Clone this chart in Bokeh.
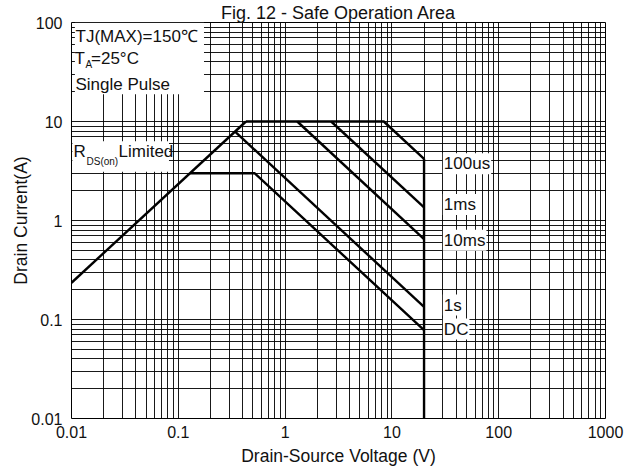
from bokeh.plotting import figure
from bokeh.models import (FixedTicker, CustomJSTickFormatter, Label, BoxAnnotation, Range1d)
from bokeh.embed import file_html
from bokeh.resources import INLINE

# ---------------- data ----------------
x_tick_values = [0.01, 0.1, 1, 10, 100, 1000]
y_tick_values = [0.01, 0.1, 1, 10, 100]
grid_mantissas = [1, 2, 3, 4, 5, 6, 7, 8, 9]

# RDS(on) limit line
rds_v = [0.01, 0.43]
rds_i = [0.235, 10]
# 100us
us100_v = [0.43, 8.4, 20]
us100_i = [10, 10, 4.2]
# 1ms
ms1_v = [2.7, 20]
ms1_i = [10, 1.36]
# 10ms
ms10_v = [1.3, 20]
ms10_i = [10, 0.65]
# 1s
s1_v = [0.34, 20]
s1_i = [7.9, 0.134]
# DC
dc_v = [0.129, 0.52, 20]
dc_i = [3, 3, 0.078]
# VDS max limit
vmax_v = [20, 20]
vmax_i = [4.2, 0.01]

curve_label_text = ["100us", "1ms", "10ms", "1s", "DC"]
curve_label_v = [30, 30, 30, 30, 30]
curve_label_i = [3.74, 1.45, 0.63, 0.14, 0.08]

cond_text = ["TJ(MAX)=150\u2103", "Single Pulse"]
cond_i = [72.6, 23.9]
ta_i = 43.6
rds_label_i = 4.94

FONT = "Liberation Sans"
TXT = "#111111"

# ---------------- figure ----------------
p = figure(width=625, height=469, x_axis_type="log", y_axis_type="log",
           x_range=Range1d(0.01, 1000), y_range=Range1d(0.01, 100),
           output_backend="svg", toolbar_location=None,
           min_border_left=71, min_border_right=20, min_border_top=21, min_border_bottom=51)
p.background_fill_color = "white"
p.border_fill_color = "white"
p.outline_line_color = "black"
p.outline_line_width = 1

p.title.text = "Fig. 12 - Safe Operation Area"
p.title.text_font = FONT
p.title.text_font_size = "18px"
p.title.text_font_style = "normal"
p.title.text_color = TXT
p.title.align = "center"
p.title.offset = -13
p.title.standoff = 0

xgrid_ticks = [m * d for d in x_tick_values[:-1] for m in grid_mantissas] + [x_tick_values[-1]]
ygrid_ticks = [m * d for d in y_tick_values[:-1] for m in grid_mantissas] + [y_tick_values[-1]]

for ax, ticks in ((p.xaxis[0], x_tick_values), (p.yaxis[0], y_tick_values)):
    ax.ticker = FixedTicker(ticks=ticks, minor_ticks=[])
    ax.formatter = CustomJSTickFormatter(code="return String(tick)")
    ax.major_tick_line_color = None
    ax.minor_tick_line_color = None
    ax.axis_line_color = None
    ax.major_tick_out = 0
    ax.major_tick_in = 0
    ax.major_label_text_font = FONT
    ax.major_label_text_font_size = "16px"
    ax.major_label_text_color = TXT
    ax.axis_label_text_font = FONT
    ax.axis_label_text_font_size = "17.5px"
    ax.axis_label_text_font_style = "normal"
    ax.axis_label_text_color = TXT

p.xaxis.axis_label = "Drain-Source Voltage (V)"
p.yaxis.axis_label = "Drain Current(A)"
p.xaxis.major_label_standoff = 7
p.xaxis.axis_label_standoff = 5
p.yaxis.major_label_standoff = 9
p.yaxis.axis_label_standoff = -3

p.xgrid.ticker = FixedTicker(ticks=xgrid_ticks)
p.ygrid.ticker = FixedTicker(ticks=ygrid_ticks)
for g in (p.xgrid, p.ygrid):
    g.grid_line_color = "black"
    g.grid_line_width = 1
    g.grid_line_alpha = 0.9

# ---------------- curves ----------------
LW = 2.4
for xs, ys in ((rds_v, rds_i), (us100_v, us100_i), (ms1_v, ms1_i), (ms10_v, ms10_i),
               (s1_v, s1_i), (dc_v, dc_i), (vmax_v, vmax_i)):
    p.line(xs, ys, line_color="black", line_width=LW)

# ---------------- annotations ----------------
# white boxes behind condition texts
p.add_layout(BoxAnnotation(left=0.01076, right=0.174, bottom=18.9, top=99.3,
                           fill_color="white", fill_alpha=1, line_color=None))
p.add_layout(BoxAnnotation(left=0.0102, right=0.0818, bottom=3.11, top=6.3,
                           fill_color="white", fill_alpha=1, line_color=None))

def lab(text, x, y, xo=0, yo=0, size="17px", align="left", baseline="middle", bg=None):
    kw = dict(x=x, y=y, text=text, x_offset=xo, y_offset=yo, text_font=FONT,
              text_font_size=size, text_color=TXT, text_align=align, text_baseline=baseline)
    if bg:
        kw.update(background_fill_color=bg, padding=1)
    p.add_layout(Label(**kw))

for t, yv in zip(cond_text, cond_i):
    lab(t, 0.01, yv, xo=4)
lab("T", 0.01, ta_i, xo=3)
lab("A", 0.01, ta_i, xo=14, yo=-6, size="10px")
lab("=25\u00b0C", 0.01, ta_i, xo=19.5)

lab("R", 0.01, rds_label_i, xo=2)
lab("DS(on)", 0.01, rds_label_i, xo=15, yo=-10, size="10px")
lab("Limited", 0.01, rds_label_i, xo=47)

for t, xv, yv in zip(curve_label_text, curve_label_v, curve_label_i):
    lab(t, xv, yv, xo=0, bg="white")

open("out.html", "w").write(file_html(p, INLINE))
